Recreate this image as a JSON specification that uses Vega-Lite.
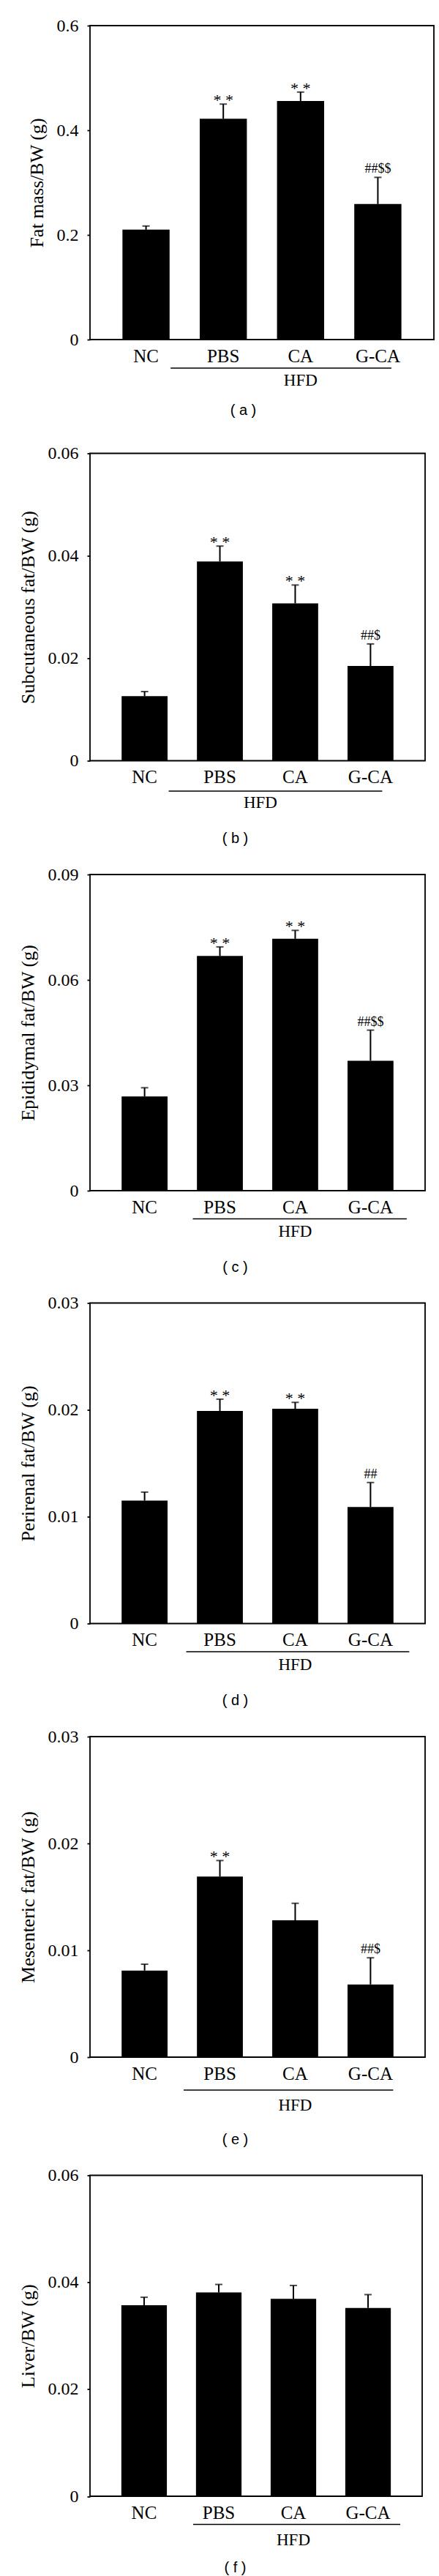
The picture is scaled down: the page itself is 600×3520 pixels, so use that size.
{
  "$schema": "https://vega.github.io/schema/vega-lite/v6.json",
  "padding": {"left": 24, "top": 22, "right": 0, "bottom": 0},
  "datasets": {
    "a": [
      {"group": "NC", "mean": 0.210, "upper": 0.217, "star": "", "hash": ""},
      {"group": "PBS", "mean": 0.422, "upper": 0.450, "star": "* *", "hash": ""},
      {"group": "CA", "mean": 0.456, "upper": 0.473, "star": "* *", "hash": ""},
      {"group": "G-CA", "mean": 0.259, "upper": 0.310, "star": "", "hash": "##$$"}
    ],
    "b": [
      {"group": "NC", "mean": 0.0126, "upper": 0.0135, "star": "", "hash": ""},
      {"group": "PBS", "mean": 0.0389, "upper": 0.0419, "star": "* *", "hash": ""},
      {"group": "CA", "mean": 0.0307, "upper": 0.0343, "star": "* *", "hash": ""},
      {"group": "G-CA", "mean": 0.0185, "upper": 0.0228, "star": "", "hash": "##$"}
    ],
    "c": [
      {"group": "NC", "mean": 0.0268, "upper": 0.0293, "star": "", "hash": ""},
      {"group": "PBS", "mean": 0.0668, "upper": 0.0694, "star": "* *", "hash": ""},
      {"group": "CA", "mean": 0.0717, "upper": 0.0741, "star": "* *", "hash": ""},
      {"group": "G-CA", "mean": 0.0370, "upper": 0.0457, "star": "", "hash": "##$$"}
    ],
    "d": [
      {"group": "NC", "mean": 0.0115, "upper": 0.0123, "star": "", "hash": ""},
      {"group": "PBS", "mean": 0.0199, "upper": 0.0210, "star": "* *", "hash": ""},
      {"group": "CA", "mean": 0.0201, "upper": 0.0207, "star": "* *", "hash": ""},
      {"group": "G-CA", "mean": 0.0109, "upper": 0.0132, "star": "", "hash": "##"}
    ],
    "e": [
      {"group": "NC", "mean": 0.0081, "upper": 0.0087, "star": "", "hash": ""},
      {"group": "PBS", "mean": 0.0169, "upper": 0.0184, "star": "* *", "hash": ""},
      {"group": "CA", "mean": 0.0128, "upper": 0.0144, "star": "", "hash": ""},
      {"group": "G-CA", "mean": 0.0068, "upper": 0.0093, "star": "", "hash": "##$"}
    ],
    "f": [
      {"group": "NC", "mean": 0.0357, "upper": 0.0372, "star": "", "hash": ""},
      {"group": "PBS", "mean": 0.0381, "upper": 0.0396, "star": "", "hash": ""},
      {"group": "CA", "mean": 0.0369, "upper": 0.0394, "star": "", "hash": ""},
      {"group": "G-CA", "mean": 0.0352, "upper": 0.0377, "star": "", "hash": ""}
    ],
    "hfd": [{"label": "HFD"}]
  },
  "columns": 1,
  "align": "none",
  "spacing": 35.5,
  "concat": [
    {
      "width": 470, "height": 429,
      "data": {"name": "a"},
      "layer": [
        {"mark": {"type": "bar", "color": "black"},
         "encoding": {
           "x": {"field": "group", "type": "nominal", "scale": {"domain": ["NC", "PBS", "CA", "G-CA"], "paddingInner": 0.39, "paddingOuter": 0.42}, "axis": {"title": "( a )", "titleX": 209, "titleY": 96}},
           "y": {"field": "mean", "type": "quantitative", "scale": {"domain": [0, 0.6], "nice": false}, "axis": {"title": "Fat mass/BW (g)", "values": [0, 0.2, 0.4, 0.6], "format": "~g"}}}},
        {"mark": {"type": "rule", "color": "black", "strokeWidth": 2},
         "encoding": {"x": {"field": "group", "type": "nominal"}, "y": {"field": "mean", "type": "quantitative"}, "y2": {"field": "upper"}}},
        {"mark": {"type": "tick", "color": "black", "thickness": 2},
         "encoding": {"x": {"field": "group", "type": "nominal"}, "y": {"field": "upper", "type": "quantitative"}, "size": {"value": 10}}},
        {"mark": {"type": "text", "fontSize": 22, "baseline": "alphabetic", "dy": 2},
         "encoding": {"x": {"field": "group", "type": "nominal"}, "y": {"field": "upper", "type": "quantitative"}, "text": {"field": "star"}}},
        {"mark": {"type": "text", "fontSize": 18, "baseline": "alphabetic", "dy": -6},
         "encoding": {"x": {"field": "group", "type": "nominal"}, "y": {"field": "upper", "type": "quantitative"}, "text": {"field": "hash"}}},
        {"data": {"name": "hfd"},
         "mark": {"type": "rule", "color": "black", "strokeWidth": 1.5, "clip": false, "yOffset": 39, "xOffset": -72, "x2Offset": 18.5},
         "encoding": {"x": {"datum": "PBS", "type": "nominal", "bandPosition": 0.5}, "x2": {"datum": "G-CA", "bandPosition": 0.5}, "y": {"datum": 0, "type": "quantitative"}}},
        {"data": {"name": "hfd"},
         "mark": {"type": "text", "fontSize": 23, "baseline": "middle", "clip": false, "yOffset": 56},
         "encoding": {"x": {"datum": "CA", "type": "nominal", "bandPosition": 0.5}, "y": {"datum": 0, "type": "quantitative"}, "text": {"field": "label"}}}
      ]
    },
    {
      "columns": 1,
      "align": "none",
      "spacing": 25.5,
      "concat": [
        {
          "width": 458, "height": 420,
          "data": {"name": "b"},
          "layer": [
            {"mark": {"type": "bar", "color": "black"},
             "encoding": {
               "x": {"field": "group", "type": "nominal", "scale": {"domain": ["NC", "PBS", "CA", "G-CA"], "paddingInner": 0.39, "paddingOuter": 0.42}, "axis": {"title": "( b )", "titleX": 198, "titleY": 106}},
               "y": {"field": "mean", "type": "quantitative", "scale": {"domain": [0, 0.06], "nice": false}, "axis": {"title": "Subcutaneous fat/BW (g)", "values": [0, 0.02, 0.04, 0.06], "format": "~g"}}}},
            {"mark": {"type": "rule", "color": "black", "strokeWidth": 2},
             "encoding": {"x": {"field": "group", "type": "nominal"}, "y": {"field": "mean", "type": "quantitative"}, "y2": {"field": "upper"}}},
            {"mark": {"type": "tick", "color": "black", "thickness": 2},
             "encoding": {"x": {"field": "group", "type": "nominal"}, "y": {"field": "upper", "type": "quantitative"}, "size": {"value": 10}}},
            {"mark": {"type": "text", "fontSize": 22, "baseline": "alphabetic", "dy": 2},
             "encoding": {"x": {"field": "group", "type": "nominal"}, "y": {"field": "upper", "type": "quantitative"}, "text": {"field": "star"}}},
            {"mark": {"type": "text", "fontSize": 18, "baseline": "alphabetic", "dy": -6},
             "encoding": {"x": {"field": "group", "type": "nominal"}, "y": {"field": "upper", "type": "quantitative"}, "text": {"field": "hash"}}},
            {"data": {"name": "hfd"},
             "mark": {"type": "rule", "color": "black", "strokeWidth": 1.5, "clip": false, "yOffset": 41.5, "xOffset": -70, "x2Offset": 16},
             "encoding": {"x": {"datum": "PBS", "type": "nominal", "bandPosition": 0.5}, "x2": {"datum": "G-CA", "bandPosition": 0.5}, "y": {"datum": 0, "type": "quantitative"}}},
            {"data": {"name": "hfd"},
             "mark": {"type": "text", "fontSize": 23, "baseline": "middle", "clip": false, "yOffset": 57, "dx": -47.5},
             "encoding": {"x": {"datum": "CA", "type": "nominal", "bandPosition": 0.5}, "y": {"datum": 0, "type": "quantitative"}, "text": {"field": "label"}}}
          ]
        },
        {
          "width": 458, "height": 432,
          "data": {"name": "c"},
          "layer": [
            {"mark": {"type": "bar", "color": "black"},
             "encoding": {
               "x": {"field": "group", "type": "nominal", "scale": {"domain": ["NC", "PBS", "CA", "G-CA"], "paddingInner": 0.39, "paddingOuter": 0.42}, "axis": {"title": "( c )", "titleX": 198, "titleY": 104}},
               "y": {"field": "mean", "type": "quantitative", "scale": {"domain": [0, 0.09], "nice": false}, "axis": {"title": "Epididymal fat/BW (g)", "values": [0, 0.03, 0.06, 0.09], "format": "~g"}}}},
            {"mark": {"type": "rule", "color": "black", "strokeWidth": 2},
             "encoding": {"x": {"field": "group", "type": "nominal"}, "y": {"field": "mean", "type": "quantitative"}, "y2": {"field": "upper"}}},
            {"mark": {"type": "tick", "color": "black", "thickness": 2},
             "encoding": {"x": {"field": "group", "type": "nominal"}, "y": {"field": "upper", "type": "quantitative"}, "size": {"value": 10}}},
            {"mark": {"type": "text", "fontSize": 22, "baseline": "alphabetic", "dy": 2},
             "encoding": {"x": {"field": "group", "type": "nominal"}, "y": {"field": "upper", "type": "quantitative"}, "text": {"field": "star"}}},
            {"mark": {"type": "text", "fontSize": 18, "baseline": "alphabetic", "dy": -6},
             "encoding": {"x": {"field": "group", "type": "nominal"}, "y": {"field": "upper", "type": "quantitative"}, "text": {"field": "hash"}}},
            {"data": {"name": "hfd"},
             "mark": {"type": "rule", "color": "black", "strokeWidth": 1.5, "clip": false, "yOffset": 38.5, "xOffset": -37, "x2Offset": 49.5},
             "encoding": {"x": {"datum": "PBS", "type": "nominal", "bandPosition": 0.5}, "x2": {"datum": "G-CA", "bandPosition": 0.5}, "y": {"datum": 0, "type": "quantitative"}}},
            {"data": {"name": "hfd"},
             "mark": {"type": "text", "fontSize": 23, "baseline": "middle", "clip": false, "yOffset": 56},
             "encoding": {"x": {"datum": "CA", "type": "nominal", "bandPosition": 0.5}, "y": {"datum": 0, "type": "quantitative"}, "text": {"field": "label"}}}
          ]
        },
        {
          "width": 458, "height": 438,
          "data": {"name": "d"},
          "layer": [
            {"mark": {"type": "bar", "color": "black"},
             "encoding": {
               "x": {"field": "group", "type": "nominal", "scale": {"domain": ["NC", "PBS", "CA", "G-CA"], "paddingInner": 0.39, "paddingOuter": 0.42}, "axis": {"title": "( d )", "titleX": 198, "titleY": 104.6}},
               "y": {"field": "mean", "type": "quantitative", "scale": {"domain": [0, 0.03], "nice": false}, "axis": {"title": "Perirenal fat/BW (g)", "values": [0, 0.01, 0.02, 0.03], "format": "~g"}}}},
            {"mark": {"type": "rule", "color": "black", "strokeWidth": 2},
             "encoding": {"x": {"field": "group", "type": "nominal"}, "y": {"field": "mean", "type": "quantitative"}, "y2": {"field": "upper"}}},
            {"mark": {"type": "tick", "color": "black", "thickness": 2},
             "encoding": {"x": {"field": "group", "type": "nominal"}, "y": {"field": "upper", "type": "quantitative"}, "size": {"value": 10}}},
            {"mark": {"type": "text", "fontSize": 22, "baseline": "alphabetic", "dy": 2},
             "encoding": {"x": {"field": "group", "type": "nominal"}, "y": {"field": "upper", "type": "quantitative"}, "text": {"field": "star"}}},
            {"mark": {"type": "text", "fontSize": 18, "baseline": "alphabetic", "dy": -6},
             "encoding": {"x": {"field": "group", "type": "nominal"}, "y": {"field": "upper", "type": "quantitative"}, "text": {"field": "hash"}}},
            {"data": {"name": "hfd"},
             "mark": {"type": "rule", "color": "black", "strokeWidth": 1.5, "clip": false, "yOffset": 38.5, "xOffset": -46, "x2Offset": 53},
             "encoding": {"x": {"datum": "PBS", "type": "nominal", "bandPosition": 0.5}, "x2": {"datum": "G-CA", "bandPosition": 0.5}, "y": {"datum": 0, "type": "quantitative"}}},
            {"data": {"name": "hfd"},
             "mark": {"type": "text", "fontSize": 23, "baseline": "middle", "clip": false, "yOffset": 56.6},
             "encoding": {"x": {"datum": "CA", "type": "nominal", "bandPosition": 0.5}, "y": {"datum": 0, "type": "quantitative"}, "text": {"field": "label"}}}
          ]
        },
        {
          "width": 458, "height": 438,
          "data": {"name": "e"},
          "layer": [
            {"mark": {"type": "bar", "color": "black"},
             "encoding": {
               "x": {"field": "group", "type": "nominal", "scale": {"domain": ["NC", "PBS", "CA", "G-CA"], "paddingInner": 0.39, "paddingOuter": 0.42}, "axis": {"title": "( e )", "titleX": 198, "titleY": 112}},
               "y": {"field": "mean", "type": "quantitative", "scale": {"domain": [0, 0.03], "nice": false}, "axis": {"title": "Mesenteric fat/BW (g)", "values": [0, 0.01, 0.02, 0.03], "format": "~g"}}}},
            {"mark": {"type": "rule", "color": "black", "strokeWidth": 2},
             "encoding": {"x": {"field": "group", "type": "nominal"}, "y": {"field": "mean", "type": "quantitative"}, "y2": {"field": "upper"}}},
            {"mark": {"type": "tick", "color": "black", "thickness": 2},
             "encoding": {"x": {"field": "group", "type": "nominal"}, "y": {"field": "upper", "type": "quantitative"}, "size": {"value": 10}}},
            {"mark": {"type": "text", "fontSize": 22, "baseline": "alphabetic", "dy": 2},
             "encoding": {"x": {"field": "group", "type": "nominal"}, "y": {"field": "upper", "type": "quantitative"}, "text": {"field": "star"}}},
            {"mark": {"type": "text", "fontSize": 18, "baseline": "alphabetic", "dy": -6},
             "encoding": {"x": {"field": "group", "type": "nominal"}, "y": {"field": "upper", "type": "quantitative"}, "text": {"field": "hash"}}},
            {"data": {"name": "hfd"},
             "mark": {"type": "rule", "color": "black", "strokeWidth": 1.5, "clip": false, "yOffset": 45, "xOffset": -49.5, "x2Offset": 31},
             "encoding": {"x": {"datum": "PBS", "type": "nominal", "bandPosition": 0.5}, "x2": {"datum": "G-CA", "bandPosition": 0.5}, "y": {"datum": 0, "type": "quantitative"}}},
            {"data": {"name": "hfd"},
             "mark": {"type": "text", "fontSize": 23, "baseline": "middle", "clip": false, "yOffset": 66},
             "encoding": {"x": {"datum": "CA", "type": "nominal", "bandPosition": 0.5}, "y": {"datum": 0, "type": "quantitative"}, "text": {"field": "label"}}}
          ]
        },
        {
          "width": 454, "height": 438.5,
          "data": {"name": "f"},
          "layer": [
            {"mark": {"type": "bar", "color": "black"},
             "encoding": {
               "x": {"field": "group", "type": "nominal", "scale": {"domain": ["NC", "PBS", "CA", "G-CA"], "paddingInner": 0.39, "paddingOuter": 0.42}, "axis": {"title": "( f )", "titleX": 198, "titleY": 97}},
               "y": {"field": "mean", "type": "quantitative", "scale": {"domain": [0, 0.06], "nice": false}, "axis": {"title": "Liver/BW (g)", "values": [0, 0.02, 0.04, 0.06], "format": "~g"}}}},
            {"mark": {"type": "rule", "color": "black", "strokeWidth": 2},
             "encoding": {"x": {"field": "group", "type": "nominal"}, "y": {"field": "mean", "type": "quantitative"}, "y2": {"field": "upper"}}},
            {"mark": {"type": "tick", "color": "black", "thickness": 2},
             "encoding": {"x": {"field": "group", "type": "nominal"}, "y": {"field": "upper", "type": "quantitative"}, "size": {"value": 10}}},
            {"data": {"name": "hfd"},
             "mark": {"type": "rule", "color": "black", "strokeWidth": 1.5, "clip": false, "yOffset": 38.6, "xOffset": -35, "x2Offset": 44},
             "encoding": {"x": {"datum": "PBS", "type": "nominal", "bandPosition": 0.5}, "x2": {"datum": "G-CA", "bandPosition": 0.5}, "y": {"datum": 0, "type": "quantitative"}}},
            {"data": {"name": "hfd"},
             "mark": {"type": "text", "fontSize": 23, "baseline": "middle", "clip": false, "yOffset": 59.5},
             "encoding": {"x": {"datum": "CA", "type": "nominal", "bandPosition": 0.5}, "y": {"datum": 0, "type": "quantitative"}, "text": {"field": "label"}}}
          ]
        }
      ]
    }
  ],
  "config": {
    "font": "Liberation Serif",
    "view": {"stroke": "black", "strokeWidth": 1.8},
    "axis": {"grid": false, "labelColor": "black", "titleColor": "black", "titleFontWeight": "normal", "labelFont": "Liberation Serif", "titleFont": "Liberation Serif"},
    "axisY": {"domain": false, "tickSize": 4, "tickWidth": 1.8, "tickColor": "black", "labelFontSize": 24, "labelPadding": 12, "titleFontSize": 26, "titlePadding": 14},
    "axisX": {"domain": false, "ticks": false, "tickSize": 0, "labelFontSize": 25, "labelPadding": 10, "labelAngle": 0, "titleFont": "Liberation Sans", "titleFontSize": 20, "titleBaseline": "middle", "titleAlign": "center"},
    "text": {"font": "Liberation Serif", "color": "black"}
  }
}
